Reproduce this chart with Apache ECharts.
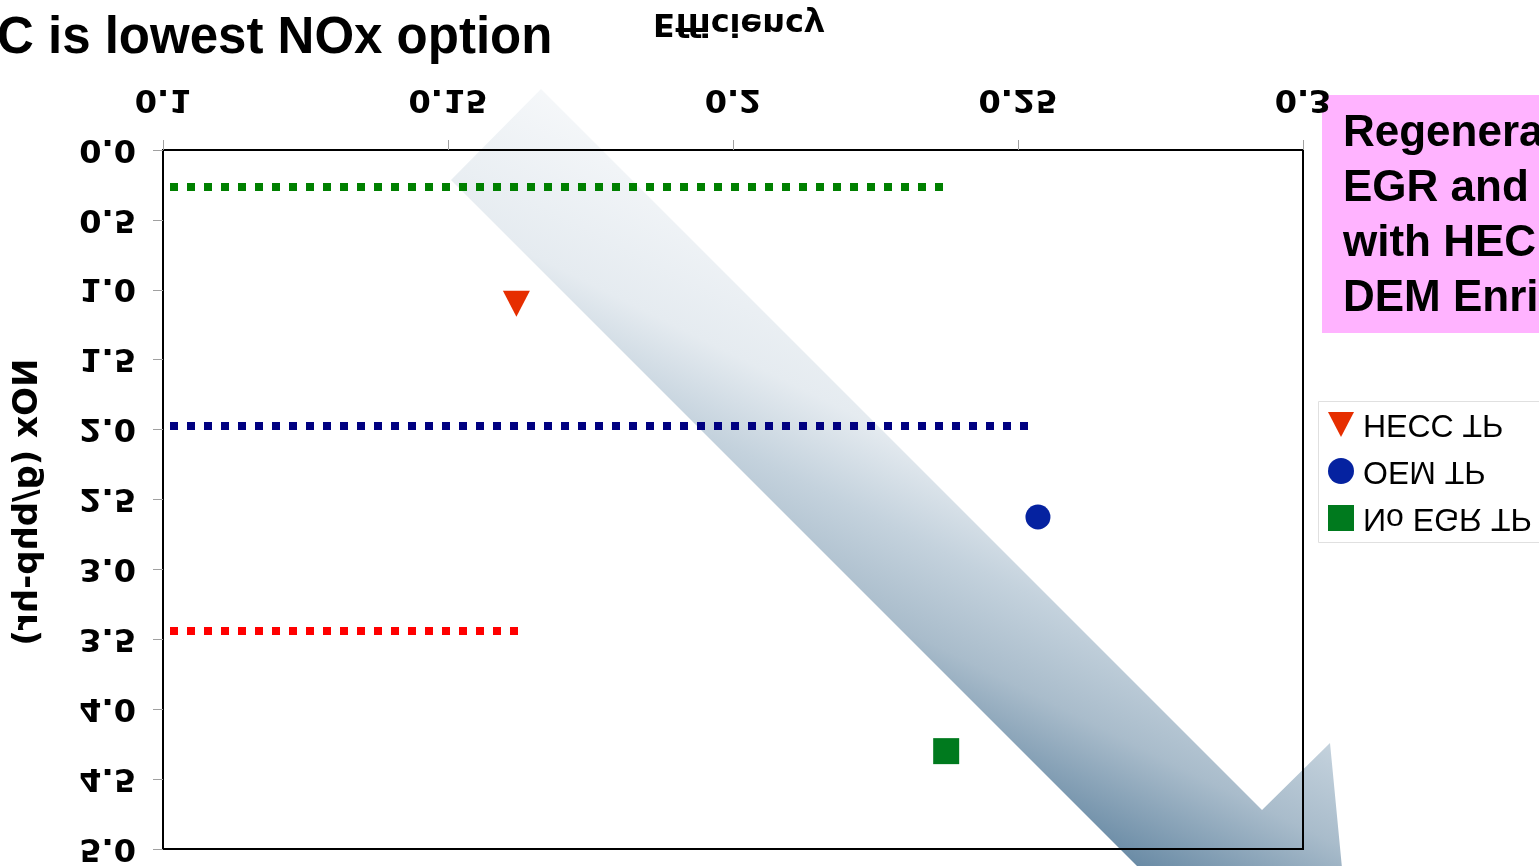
<!DOCTYPE html>
<html>
<head>
<meta charset="utf-8">
<script src="https://cdn.jsdelivr.net/npm/echarts@6/dist/echarts.min.js"></script>
<style>
html,body{margin:0;padding:0;background:#fff;}
#c{width:1539px;height:866px;}
</style>
</head>
<body>
<div id="c"></div>
<script>
// ---- data ----
var xTicks = [0.1, 0.15, 0.2, 0.25, 0.3];
var xTickLabels = ['0.1', '0.15', '0.2', '0.25', '0.3'];
var yTicks = [0, 0.5, 1, 1.5, 2, 2.5, 3, 3.5, 4, 4.5, 5];
var yTickLabels = ['0.0', '0.5', '1.0', '1.5', '2.0', '2.5', '3.0', '3.5', '4.0', '4.5', '5.0'];
var seriesNames = ['HECC TP', 'OEM TP', 'No EGR TP'];
var heccTP = [[0.162, 1.10]];
var oemTP = [[0.2535, 2.625]];
var noEgrTP = [[0.2374, 4.30]];
var greenRef = [[0.1, 0.265], [0.2374, 0.265]];
var navyRef = [[0.1, 1.975], [0.2525, 1.975]];
var redRef = [[0.1, 3.44], [0.1626, 3.44]];
var xAxisName = 'Efficiency';
var yAxisName = 'NOx (g/bhp-hr)';
var titleText = 'C is lowest NOx option';
var boxLines = ['Regenera', 'EGR and', 'with HEC', 'DEM Enri'];

var chart = echarts.init(document.getElementById('c'), null, {renderer: 'canvas'});

function refLine(data, color) {
  return {
    type: 'line', data: data, symbol: 'none', silent: true, z: 3,
    lineStyle: {color: color, width: 8, type: [8, 9], dashOffset: 10, cap: 'butt'}
  };
}

chart.setOption({
  animation: false,
  backgroundColor: '#ffffff',
  grid: {left: 163, top: 150, right: 236, bottom: 17, show: true,
         borderColor: '#000', borderWidth: 2, backgroundColor: 'transparent'},
  xAxis: {
    type: 'value', position: 'top', min: 0.1, max: 0.3, interval: 0.05,
    axisLine: {show: true, lineStyle: {color: '#000', width: 2}},
    axisTick: {show: true, inside: false, length: 10, lineStyle: {color: '#a0a0a0', width: 1}},
    axisLabel: {show: false},
    splitLine: {show: false}
  },
  yAxis: {
    type: 'value', inverse: true, min: 0, max: 5, interval: 0.5,
    axisLine: {show: true, lineStyle: {color: '#000', width: 2}},
    axisTick: {show: true, inside: false, length: 10, lineStyle: {color: '#a0a0a0', width: 1}},
    axisLabel: {show: false},
    splitLine: {show: false}
  },
  series: [
    refLine(greenRef, '#008000'),
    refLine(navyRef, '#000080'),
    refLine(redRef, '#ff0000'),
    {name: seriesNames[0], type: 'scatter', data: heccTP, symbol: 'triangle', symbolRotate: 180,
     symbolSize: [27, 26], itemStyle: {color: '#e62e00', opacity: 1}, z: 5},
    {name: seriesNames[1], type: 'scatter', data: oemTP, symbol: 'circle',
     symbolSize: 25, itemStyle: {color: '#0522a0', opacity: 1}, z: 5},
    {name: seriesNames[2], type: 'scatter', data: noEgrTP, symbol: 'rect',
     symbolSize: 26, itemStyle: {color: '#007a1e', opacity: 1}, z: 5}
  ]
});

// ---- flipped (mirrored vertically) texts, as in the reference ----
var els = [];
var tickFont = 'bold 32px "DejaVu Sans"';
function flipText(text, x, y, font, align, extra) {
  var e = {type: 'text', x: x, y: y, scaleY: -1, z: 100,
    style: {text: text, font: font, fill: '#000', align: align || 'center', verticalAlign: 'middle'}};
  if (extra) for (var k in extra) e[k] = extra[k];
  return e;
}
xTicks.forEach(function (v, i) {
  var p = chart.convertToPixel({gridIndex: 0}, [v, 0]);
  els.push(flipText(xTickLabels[i], p[0], 98, tickFont, 'center'));
});
yTicks.forEach(function (v, i) {
  var p = chart.convertToPixel({gridIndex: 0}, [0.1, v]);
  els.push(flipText(yTickLabels[i], 136, p[1] - 2, tickFont, 'right'));
});
els.push(flipText(xAxisName, 739, 22, 'bold 32px "DejaVu Sans"', 'center'));
els.push(flipText(yAxisName, 28, 502, 'bold 34px "DejaVu Sans"', 'center', {rotation: -Math.PI / 2}));

// arrow (decorative)
els.unshift({
  type: 'polygon', z: -10, silent: true,
  shape: {points: [[541, 89], [1262, 810], [1330, 743], [1354, 993], [1104, 968], [1171, 900], [451, 180]]},
  style: {fill: new echarts.graphic.LinearGradient(75.7, -152.2, -129, 259.6, [
    {offset: 0, color: '#f6f8fa'},
    {offset: 0.35, color: '#e5ebf0'},
    {offset: 0.53, color: '#c4d2dd'},
    {offset: 0.72, color: '#a9bccb'},
    {offset: 0.95, color: '#6b8ca6'},
    {offset: 1, color: '#62849e'}
  ], true)}
});

// title
els.push({type: 'text', x: -3, y: 39, z: 100,
  style: {text: titleText, font: 'bold 51px "Liberation Sans"', fill: '#000', align: 'left', verticalAlign: 'middle'}});

// pink box
els.push({type: 'rect', z: 50, shape: {x: 1322, y: 95, width: 230, height: 238}, style: {fill: '#ffb3ff'}});
boxLines.forEach(function (t, i) {
  els.push({type: 'text', x: 1343, y: 134 + i * 55, z: 100,
    style: {text: t, font: 'bold 44px "Liberation Sans"', fill: '#000', align: 'left', verticalAlign: 'middle'}});
});

// legend
els.push({type: 'rect', z: 50, shape: {x: 1318.5, y: 401.5, width: 240, height: 141},
  style: {fill: '#fff', stroke: '#e0e0e0', lineWidth: 1}});
var legY = [424, 471, 518];
els.push({type: 'polygon', z: 60, shape: {points: [[1328, 412], [1354, 412], [1341, 437]]}, style: {fill: '#e62e00'}});
els.push({type: 'circle', z: 60, shape: {cx: 1341, cy: legY[1], r: 13}, style: {fill: '#0522a0'}});
els.push({type: 'rect', z: 60, shape: {x: 1328, y: legY[2] - 13, width: 26, height: 26}, style: {fill: '#007a1e'}});
seriesNames.forEach(function (n, i) {
  els.push(flipText(n, 1363, legY[i], '32px "Liberation Sans"', 'left'));
});

chart.setOption({graphic: {elements: els}});
</script>
</body>
</html>
